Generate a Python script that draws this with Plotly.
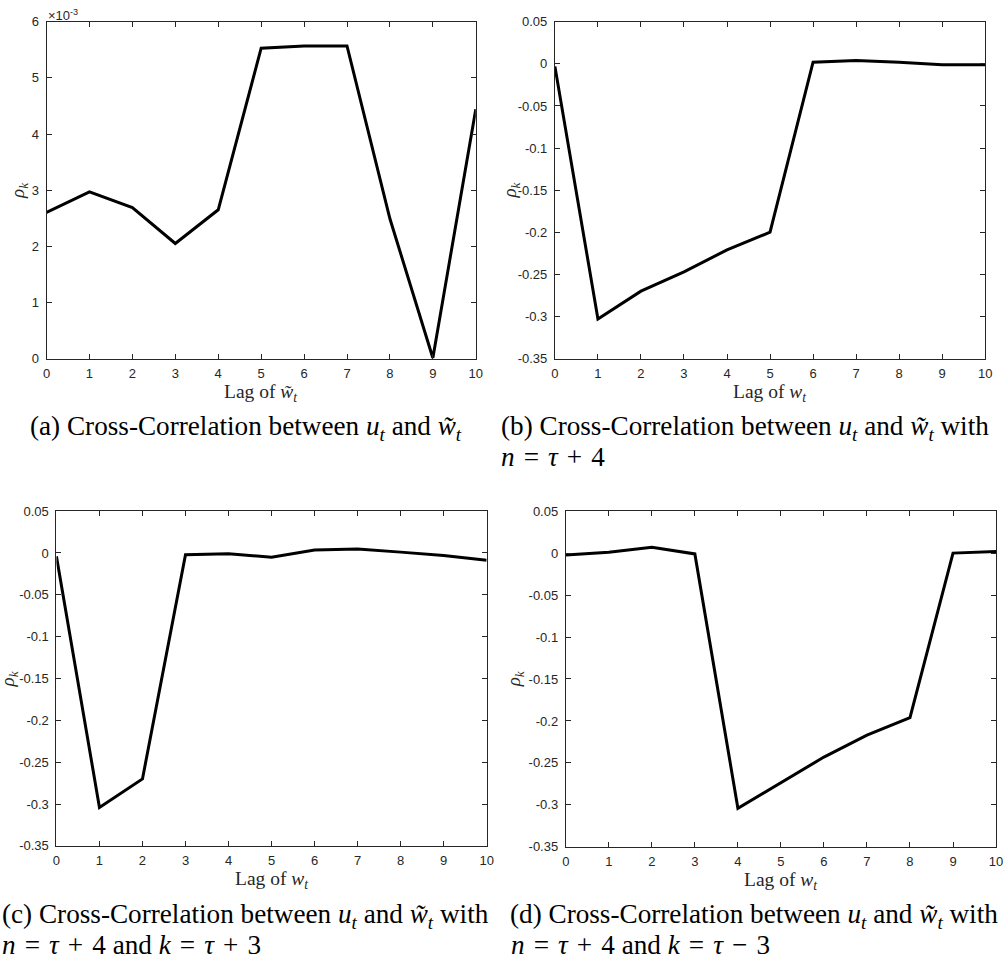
import plotly.graph_objects as go

W, H = 1006, 974

lags = [0, 1, 2, 3, 4, 5, 6, 7, 8, 9, 10]
rho_a = [0.002605, 0.00297, 0.00269, 0.00205, 0.00265, 0.00553, 0.00557, 0.00557, 0.00249, 0.00001, 0.00444]
rho_b = [-0.003, -0.303, -0.270, -0.247, -0.221, -0.200, 0.002, 0.004, 0.002, -0.001, -0.001]
rho_c = [-0.004, -0.304, -0.270, -0.002, -0.001, -0.005, 0.0035, 0.0047, 0.001, -0.003, -0.0086]
rho_d = [-0.0024, 0.001, 0.007, -0.001, -0.304, -0.273, -0.243, -0.217, -0.196, 0.0, 0.002]

a_tickvals = [0, 0.001, 0.002, 0.003, 0.004, 0.005, 0.006]
a_ticktext = ["0", "1", "2", "3", "4", "5", "6"]
bcd_tickvals = [0.05, 0, -0.05, -0.1, -0.15, -0.2, -0.25, -0.3, -0.35]
bcd_ticktext = ["0.05", "0", "-0.05", "-0.1", "-0.15", "-0.2", "-0.25", "-0.3", "-0.35"]

S = "\u2004"  # math spacing around relations / operators
captions = [
    ["(a) Cross-Correlation between <i>u</i><sub><i>t</i></sub> and <i>w̃</i><sub><i>t</i></sub>"],
    ["(b) Cross-Correlation between <i>u</i><sub><i>t</i></sub> and <i>w̃</i><sub><i>t</i></sub> with",
     f"<i>n</i>{S}={S}<i>τ</i>{S}+{S}4"],
    ["(c) Cross-Correlation between <i>u</i><sub><i>t</i></sub> and <i>w̃</i><sub><i>t</i></sub> with",
     f"<i>n</i>{S}={S}<i>τ</i>{S}+{S}4 and <i>k</i>{S}={S}<i>τ</i>{S}+{S}3"],
    ["(d) Cross-Correlation between <i>u</i><sub><i>t</i></sub> and <i>w̃</i><sub><i>t</i></sub> with",
     f"<i>n</i>{S}={S}<i>τ</i>{S}+{S}4 and <i>k</i>{S}={S}<i>τ</i>{S}−{S}3"],
]
xtitles = [
    "Lag of <i>w̃</i><sub><i>t</i></sub>",
    "Lag of <i>w</i><sub><i>t</i></sub>",
    "Lag of <i>w</i><sub><i>t</i></sub>",
    "Lag of <i>w</i><sub><i>t</i></sub>",
]
ytitle = "<i>ρ</i><sub><i>k</i></sub>"

# plot-area boxes in pixels: left, right, top, bottom
boxes = [(43, 477, 15, 357), (557, 992, 15, 357), (53, 488, 512, 852), (568, 1003, 512, 853)]
series = [rho_a, rho_b, rho_c, rho_d]
yranges = [[0, 0.006], [-0.35, 0.05], [-0.35, 0.05], [-0.35, 0.05]]

def px(x):
    return x / W

def py(y):
    return 1 - y / H

fig = go.Figure()
AX = "#262626"
tickfont = dict(family="Liberation Sans, Arial, sans-serif", size=13, color=AX)
serif = "Liberation Serif, Times New Roman, serif"

annotations = []
for i, (box, ys, yr) in enumerate(zip(boxes, series, yranges)):
    n = "" if i == 0 else str(i + 1)
    l, r, t, b = box
    fig.add_trace(go.Scatter(x=lags, y=ys, mode="lines", line=dict(color="black", width=3),
                             xaxis="x" + n, yaxis="y" + n, showlegend=False))
    xa = dict(domain=[px(l), px(r)], range=[0, 10], anchor="y" + n, tickvals=lags,
              ticks="inside", ticklen=5, tickcolor=AX, tickwidth=1, mirror="ticks",
              showline=True, linecolor=AX, linewidth=1, showgrid=False, zeroline=False,
              tickfont=tickfont, ticklabelstandoff=3)
    if i == 0:
        tv, tt = a_tickvals, a_ticktext
    else:
        tv, tt = bcd_tickvals, bcd_ticktext
    ya = dict(domain=[py(b), py(t)], range=yr, anchor="x" + n, tickvals=tv, ticktext=tt,
              ticks="inside", ticklen=5, tickcolor=AX, tickwidth=1, mirror="ticks",
              showline=True, linecolor=AX, linewidth=1, showgrid=False, zeroline=False,
              tickfont=tickfont, ticklabelstandoff=4)
    fig.update_layout(**{"xaxis" + n: xa, "yaxis" + n: ya})

    # x-axis title
    annotations.append(dict(text=xtitles[i], x=px((l + r) / 2), y=py(b + 35), xref="paper", yref="paper",
                            xanchor="center", yanchor="middle", showarrow=False,
                            font=dict(family=serif, size=19.5, color=AX)))
    # y-axis title
    yt_x = [15, 513, 6, 517][i]
    annotations.append(dict(text=ytitle, x=px(yt_x), y=py((t + b) / 2), xref="paper", yref="paper",
                            xanchor="center", yanchor="middle", showarrow=False, textangle=-90,
                            font=dict(family=serif, size=19, color=AX)))

# captions
cap_pos = [
    [(24, 428)],
    [(500, 428), (500, 457)],
    [(-4, 923), (-4, 953)],
    [(510, 923), (511, 953)],
]
for caps, poss in zip(captions, cap_pos):
    for txt, (cx, cy) in zip(caps, poss):
        annotations.append(dict(text=txt, x=px(cx), y=py(cy), xref="paper", yref="paper",
                                xanchor="left", yanchor="middle", showarrow=False,
                                font=dict(family=serif, size=27.2, color="black")))

# exponent label for panel (a)
annotations.append(dict(text="×10<sup>-3</sup>", x=px(42), y=py(8), xref="paper", yref="paper",
                        xanchor="left", yanchor="middle", showarrow=False,
                        font=dict(family="Liberation Sans, Arial, sans-serif", size=13, color=AX)))

fig.update_layout(width=W, height=H, autosize=False, margin=dict(l=0, r=0, t=0, b=0),
                  plot_bgcolor="white", paper_bgcolor="white", annotations=annotations)

fig.write_html("out.html", config={"displayModeBar": False},
               post_script="document.body.style.margin='0';document.body.style.overflow='hidden';")
